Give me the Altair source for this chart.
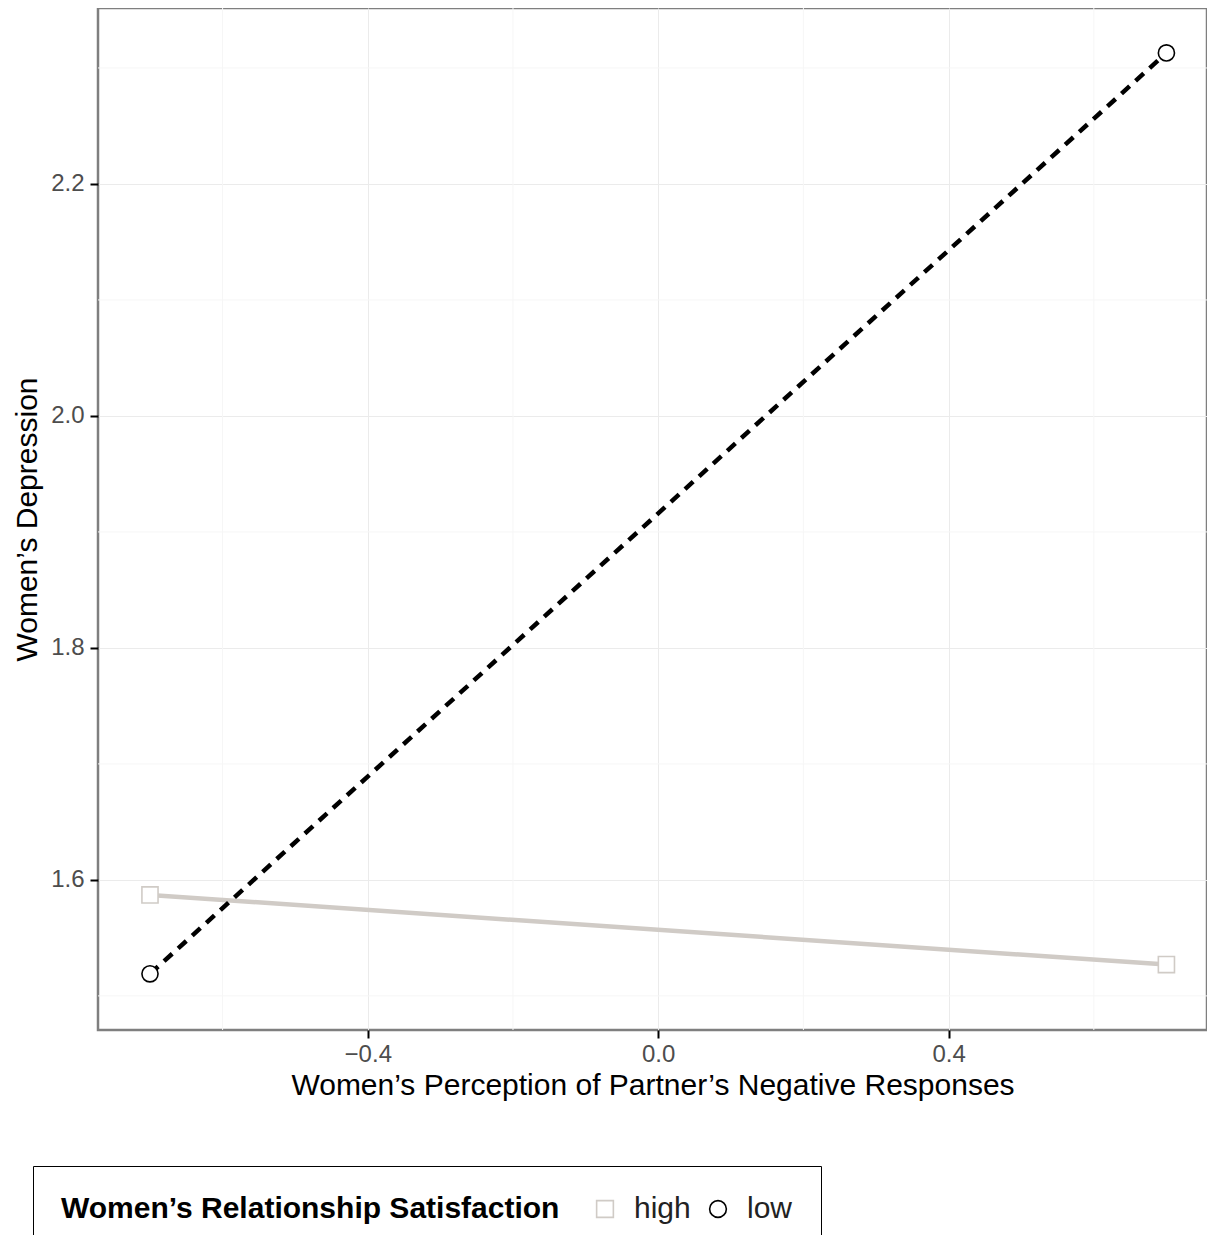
import altair as alt
import pandas as pd

# ---- data ----
x_vals = [-0.70, 0.70]
high_y = [1.587, 1.527]
low_y = [1.519, 2.313]
groups = ["high", "low"]

x_ticks = [-0.4, 0.0, 0.4]
y_ticks = [1.6, 1.8, 2.0, 2.2]
x_minor = [-0.6, -0.2, 0.2, 0.6]
y_minor = [1.5, 1.7, 1.9, 2.1, 2.3]

x_domain = [-0.7716, 0.7559]
y_domain = [1.4706, 2.3517]

df = pd.DataFrame({
    "x": x_vals + x_vals,
    "y": high_y + low_y,
    "sat": ["high"] * len(x_vals) + ["low"] * len(x_vals),
})
dfx = pd.DataFrame({"v": x_minor})
dfy = pd.DataFrame({"v": y_minor})

FONT = "Liberation Sans"
GRAY = "#d0cbc6"

xscale = alt.Scale(domain=x_domain, nice=False, zero=False)
yscale = alt.Scale(domain=y_domain, nice=False, zero=False)

color_scale = alt.Scale(domain=groups, range=[GRAY, "#000000"])
shape_scale = alt.Scale(domain=groups, range=["square", "circle"])

legend = alt.Legend(
    title="Women’s Relationship Satisfaction",
    orient="none",
    legendX=-65,
    legendY=1158,
    direction="horizontal",
    titleOrient="left",
    titleFont=FONT,
    titleFontSize=30,
    titleFontWeight="bold",
    titleColor="#000000",
    titlePadding=30,
    titleLimit=2000,
    labelFont=FONT,
    labelFontSize=30,
    labelColor="#222222",
    labelOffset=14,
    columnPadding=12,
    symbolSize=280,
    symbolStrokeWidth=1.6,
    symbolFillColor="white",
    strokeColor="#000000",
    padding=28,
)

minor_x = alt.Chart(dfx).mark_rule(color="#f6f6f6", strokeWidth=1).encode(
    x=alt.X("v:Q", scale=xscale)
)
minor_y = alt.Chart(dfy).mark_rule(color="#f6f6f6", strokeWidth=1).encode(
    y=alt.Y("v:Q", scale=yscale)
)

base = alt.Chart(df).encode(
    x=alt.X(
        "x:Q",
        scale=xscale,
        axis=alt.Axis(
            values=x_ticks,
            format=".1f",
            title="Women’s Perception of Partner’s Negative Responses",
            labelPadding=4,
            titlePadding=4,
        ),
    ),
    y=alt.Y(
        "y:Q",
        scale=yscale,
        axis=alt.Axis(
            values=y_ticks,
            format=".1f",
            title="Women’s Depression",
            labelPadding=6,
            titlePadding=8,
        ),
    ),
)

line_high = base.transform_filter(alt.datum.sat == "high").mark_line(
    color=GRAY, strokeWidth=4.5
)
line_low = base.transform_filter(alt.datum.sat == "low").mark_line(
    color="#000000", strokeWidth=4.5, strokeDash=[11, 8]
)

points = base.mark_point(filled=False, fill="white", size=260, strokeWidth=1.6, opacity=1).encode(
    color=alt.Color("sat:N", scale=color_scale, legend=legend),
    shape=alt.Shape("sat:N", scale=shape_scale, legend=legend),
)

chart = (
    alt.layer(minor_x, minor_y, line_high, line_low, points)
    .properties(
        width=1109,
        height=1022,
        autosize=alt.AutoSizeParams(type="none"),
        padding={"left": 90, "top": 0, "right": 0, "bottom": 205},
    )
    .configure_view(stroke="#7f7f7f", strokeWidth=2.5)
    .configure_axis(
        domain=False,
        grid=True,
        gridColor="#ebebeb",
        gridWidth=1,
        ticks=True,
        tickColor="#000000",
        tickWidth=2,
        tickSize=8,
        labelFont=FONT,
        labelFontSize=24,
        labelColor="#4d4d4d",
        titleFont=FONT,
        titleFontSize=30,
        titleFontWeight="normal",
        titleColor="#000000",
    )
)

chart.save("out.html", embed_options={"renderer": "svg", "actions": False})
